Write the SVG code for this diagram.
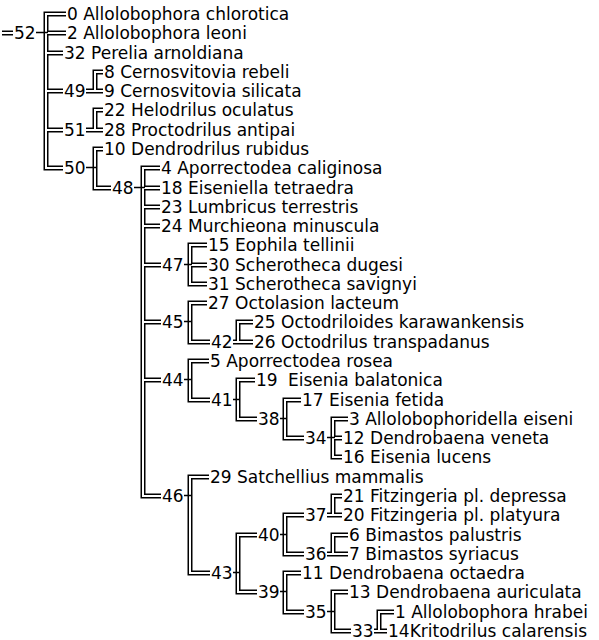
<svg xmlns="http://www.w3.org/2000/svg" xmlns:xlink="http://www.w3.org/1999/xlink" width="599" height="640" viewBox="0 0 599 640">
<style>
text{font-family:"DejaVu Sans","Verdana",sans-serif;font-size:17px;fill:#000}
.tk{stroke:#000;stroke-width:1.3;fill:none}
</style>
<defs>
<g id="edgepaths">
<path d="M2 33H13"/>
<path d="M66 14H46V168H63M46 33H66M46 53H63M46 91H63M46 130H63"/>
<path d="M103 72H95V91H103M86 91H95"/>
<path d="M103 110H95V130H103M86 130H95"/>
<path d="M103 149H95V188H111"/>
<path d="M160 168H143V496H161M143 188H160M143 207H160M143 226H160M143 265H161M143 322H161M143 380H161"/>
<path d="M207 245H190V284H207M190 265H207"/>
<path d="M207 303H190V342H210"/>
<path d="M253 322H238V342H253M233 342H238"/>
<path d="M209 361H190V400H210"/>
<path d="M255 380H238V419H257"/>
<path d="M301 400H285V438H304"/>
<path d="M348 419H333V457H342M333 438H342"/>
<path d="M209 477H190V573H210"/>
<path d="M257 535H238V592H257"/>
<path d="M304 515H285V554H304"/>
<path d="M342 496H333V515H342M327 515H333"/>
<path d="M348 535H333V554H348M327 554H333"/>
<path d="M301 573H285V612H304"/>
<path d="M348 592H333V631H351"/>
<path d="M394 612H379V631H387M374 631H379"/>
</g>
</defs>
<g id="connectors">
<use xlink:href="#edgepaths" href="#edgepaths" fill="none" stroke="#000" stroke-width="5"/>
<use xlink:href="#edgepaths" href="#edgepaths" fill="none" stroke="#fff" stroke-width="2"/>
<path class="tk" d="M36 32.5H48M86 167.5H97M134 187.5H145M184 264.5H192M184 321.5H192M184 379.5H192M233 399.5H240M280 418.5H287M327 437.5H335M184 495.5H192M233 572.5H240M280 534.5H287M280 591.5H287M327 611.5H335"/>
</g>
<g id="n52"><text x="14" y="39">52</text></g>
<g id="n0"><text x="67" y="20">0 Allolobophora chlorotica</text></g>
<g id="n2"><text x="67" y="39">2 Allolobophora leoni</text></g>
<g id="n32"><text x="64" y="59">32 Perelia arnoldiana</text></g>
<g id="n49"><text x="64" y="97">49</text></g>
<g id="n8"><text x="104" y="78">8 Cernosvitovia rebeli</text></g>
<g id="n9"><text x="104" y="97">9 Cernosvitovia silicata</text></g>
<g id="n51"><text x="64" y="136">51</text></g>
<g id="n22"><text x="104" y="116">22 Helodrilus oculatus</text></g>
<g id="n28"><text x="104" y="136">28 Proctodrilus antipai</text></g>
<g id="n50"><text x="64" y="174">50</text></g>
<g id="n10"><text x="104" y="155">10 Dendrodrilus rubidus</text></g>
<g id="n48"><text x="112" y="194">48</text></g>
<g id="n4"><text x="161" y="174">4 Aporrectodea caliginosa</text></g>
<g id="n18"><text x="161" y="194">18 Eiseniella tetraedra</text></g>
<g id="n23"><text x="161" y="213">23 Lumbricus terrestris</text></g>
<g id="n24"><text x="161" y="232">24 Murchieona minuscula</text></g>
<g id="n47"><text x="162" y="271">47</text></g>
<g id="n15"><text x="208" y="251">15 Eophila tellinii</text></g>
<g id="n30"><text x="208" y="271">30 Scherotheca dugesi</text></g>
<g id="n31"><text x="208" y="290">31 Scherotheca savignyi</text></g>
<g id="n45"><text x="162" y="328">45</text></g>
<g id="n27"><text x="208" y="309">27 Octolasion lacteum</text></g>
<g id="n42"><text x="211" y="348">42</text></g>
<g id="n25"><text x="254" y="328">25 Octodriloides karawankensis</text></g>
<g id="n26"><text x="254" y="348">26 Octodrilus transpadanus</text></g>
<g id="n44"><text x="162" y="386">44</text></g>
<g id="n5"><text x="210" y="367">5 Aporrectodea rosea</text></g>
<g id="n41"><text x="211" y="406">41</text></g>
<g id="n19"><text x="256" y="386">19<tspan dx="5"> Eisenia balatonica</tspan></text></g>
<g id="n38"><text x="258" y="425">38</text></g>
<g id="n17"><text x="302" y="406">17 Eisenia fetida</text></g>
<g id="n34"><text x="305" y="444">34</text></g>
<g id="n3"><text x="349" y="425">3 Allolobophoridella eiseni</text></g>
<g id="n12"><text x="343" y="444">12 Dendrobaena veneta</text></g>
<g id="n16"><text x="343" y="463">16 Eisenia lucens</text></g>
<g id="n46"><text x="162" y="502">46</text></g>
<g id="n29"><text x="210" y="483">29 Satchellius mammalis</text></g>
<g id="n43"><text x="211" y="579">43</text></g>
<g id="n40"><text x="258" y="541">40</text></g>
<g id="n37"><text x="305" y="521">37</text></g>
<g id="n21"><text x="343" y="502">21 Fitzingeria pl. depressa</text></g>
<g id="n20"><text x="343" y="521">20 Fitzingeria pl. platyura</text></g>
<g id="n36"><text x="305" y="560">36</text></g>
<g id="n6"><text x="349" y="541">6 Bimastos palustris</text></g>
<g id="n7"><text x="349" y="560">7 Bimastos syriacus</text></g>
<g id="n39"><text x="258" y="598">39</text></g>
<g id="n11"><text x="302" y="579">11 Dendrobaena octaedra</text></g>
<g id="n35"><text x="305" y="618">35</text></g>
<g id="n13"><text x="349" y="598">13 Dendrobaena auriculata</text></g>
<g id="n33"><text x="352" y="637">33</text></g>
<g id="n1"><text x="395" y="618">1 Allolobophora hrabei</text></g>
<g id="n14"><text x="388" y="637">14Kritodrilus calarensis</text></g>
</svg>
